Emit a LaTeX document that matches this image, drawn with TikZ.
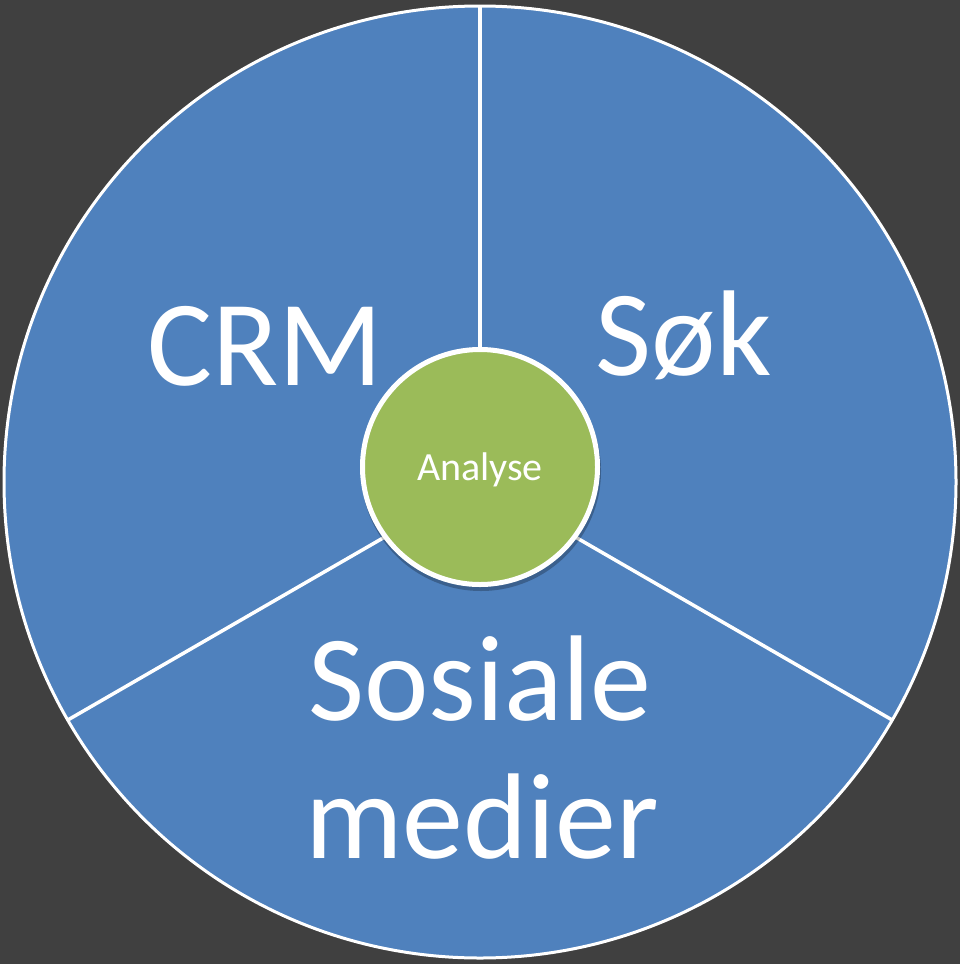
\documentclass[tikz,border=0pt]{standalone}
\usepackage{fontspec}
\setmainfont{Carlito}
\definecolor{bg}{HTML}{404040}
\definecolor{segblue}{HTML}{4F81BD}
\definecolor{hubgreen}{HTML}{9BBB59}
\begin{document}
\begin{tikzpicture}[x=1pt,y=-1pt,
  bigtext/.style={text=white,font=\fontsize{122}{128}\selectfont,inner sep=0pt,anchor=base},
  divider/.style={draw=white,line width=3.5pt}]
\fill[bg] (0,0) rectangle (960,964);
\useasboundingbox (0,0) rectangle (960,964);
\coordinate (c) at (480,482);
\fill[segblue,draw=white,line width=3pt] (c) circle[radius=476];
\path (c) ++(0,-476) coordinate (t2);
\path (c) ++(-412.2,238) coordinate (lft);
\path (c) ++(412.2,238) coordinate (rgt);
\draw[divider] (c) -- (t2);
\draw[divider] (c) -- (lft);
\draw[divider] (c) -- (rgt);
\fill[black,opacity=0.25] (481,471) circle[radius=120];
\node[circle,fill=hubgreen,draw=white,line width=5pt,minimum size=235pt,inner sep=0pt] (hub) at (480,467) {};
\node[text=white,font=\fontsize{40}{44}\selectfont,inner sep=0pt,anchor=base] (an) at (480,480) {Analyse};
\node[bigtext] (crm) at (265,385) {CRM};
\node[bigtext] (sok) at (684,375) {Søk};
\node[bigtext] (sos) at (480,720) {Sosiale};
\node[bigtext] (med) at (482,858) {medier};
\end{tikzpicture}
\end{document}
